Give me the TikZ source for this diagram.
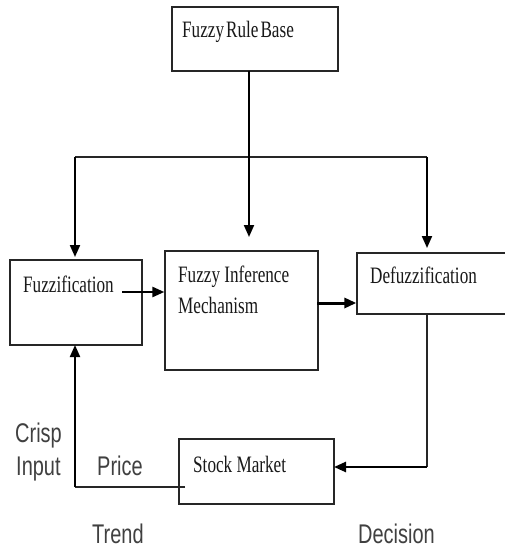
\documentclass[tikz,border=0pt]{standalone}
\usepackage{fontspec}
\usetikzlibrary{arrows.meta}
\newfontfamily\boxfont[FakeStretch=0.73]{Liberation Serif}
\newfontfamily\lblfont[FakeStretch=0.74]{Liberation Sans}
\begin{document}
\begin{tikzpicture}[x=1pt,y=-1pt,
  box/.style={draw=black!85,line width=1.3pt,inner sep=0pt},
  btext/.style={anchor=base west,inner sep=0pt,font=\boxfont\fontsize{23.5}{28}\selectfont,text=black!90},
  ltext/.style={anchor=base west,inner sep=0pt,font=\lblfont\fontsize{27}{30}\selectfont,text=black!75},
  thin/.style={draw=black!85,line width=1.3pt},
  thick/.style={draw=black,line width=2pt},
  arr/.style={-{Triangle[length=12pt,width=10pt]}}]
\clip (0,0) rectangle (505,548);
\fill[white] (0,0) rectangle (505,548);
% boxes
\node[box,minimum width=166pt,minimum height=64pt] (rule) at (255,39) {};
\node[box,minimum width=132pt,minimum height=85pt] (fuzz) at (76,302.5) {};
\node[box,minimum width=153pt,minimum height=119pt] (fim) at (241.5,310.5) {};
\node[box,minimum width=153pt,minimum height=61pt] (defuzz) at (433.5,283.5) {};
\node[box,minimum width=155pt,minimum height=65pt] (stock) at (256.5,471.5) {};
% box texts
\node[btext] (t1) at (182,38) {Fuzzy\hspace{2pt}Rule\hspace{2pt}Base};
\node[btext] (t2) at (23,292) {Fuzzification};
\node[btext] (t3) at (178,282) {Fuzzy Inference};
\node[btext] (t4) at (178,313) {Mechanism};
\node[btext] (t5) at (370,283) {Defuzzification};
\node[btext] (t6) at (193,472) {Stock Market};
% free labels
\node[ltext] (l1) at (15,442) {Crisp};
\node[ltext] (l2) at (16,475) {Input};
\node[ltext] (l3) at (97,475) {Price};
\node[ltext] (l4) at (92,543) {Trend};
\node[ltext] (l5) at (358,543) {Decision};
% coordinates
\coordinate (ruleout) at (249,71);
\coordinate (fimin) at (249,237);
\coordinate (jl) at (75,157);
\coordinate (jr) at (427,157);
\coordinate (fuzzin) at (75,257);
\coordinate (defin) at (427,248);
\coordinate (fzout) at (122,292);
\coordinate (fimout) at (317,303);
\coordinate (defout) at (427,314);
\coordinate (db) at (427,467);
\coordinate (stin) at (334,467);
\coordinate (stout) at (185,487);
\coordinate (sb) at (75,487);
\coordinate (fzin2) at (75,345);
% connectors
\draw[thin] (jl) -- (jr);
\draw[thick,arr] (ruleout) -- (fimin);
\draw[thick,arr] (jl) -- (fuzzin);
\draw[thick,arr] (jr) -- (defin);
\draw[thick,line width=2.5pt,arr] (fzout) -- (fuzz.east |- fzout) -- (fim.west |- fzout);
\draw[thick,line width=3pt,arr] (fimout) -- (defuzz.west |- fimout);
\draw[thin] (defout) -- (db);
\draw[thick,line width=2.5pt,arr] (db) -- (stin);
\draw[thin] (stout) -- (sb);
\draw[thick,arr] (sb) -- (fzin2);
\end{tikzpicture}
\end{document}
